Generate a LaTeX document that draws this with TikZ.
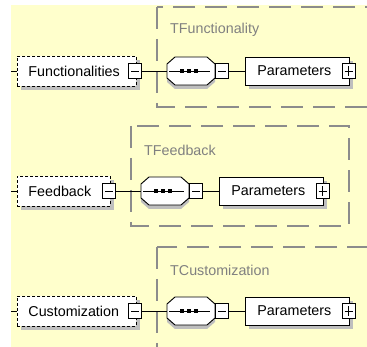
\documentclass[tikz,border=0pt]{standalone}
\usepackage{fontspec}
\setmainfont{Liberation Sans}
\usetikzlibrary{shadows}
\definecolor{bgyellow}{RGB}{255,255,204}
\definecolor{shadowgray}{RGB}{190,190,190}
\definecolor{groupgray}{RGB}{140,140,140}
\definecolor{labelgray}{RGB}{128,128,128}
\tikzset{
  x=1pt, y=-1pt,
  txt/.style={font=\fontsize{14.3}{16}\selectfont},
  elembox/.style={draw=black, line width=0.9pt, fill=white, rectangle,
    minimum height=#1, inner xsep=11pt, inner ysep=0pt, align=left, txt,
    drop shadow={shadow xshift=4pt, shadow yshift=-4pt, fill=shadowgray, opacity=1},
    anchor=west},
  optbox/.style={elembox=30pt, dash pattern=on 3pt off 2pt},
  parbox/.style={elembox=28pt, inner xsep=12pt, text width=80pt},
  sqbox/.style={draw=black, line width=0.9pt, fill=white, rectangle,
    minimum width=13pt, minimum height=14.5pt, inner sep=0pt},
  collapsebox/.style={sqbox, path picture={
    \draw[line width=0.9pt] ([xshift=2.5pt]path picture bounding box.west) -- ([xshift=-2.5pt]path picture bounding box.east);}},
  expandbox/.style={sqbox, path picture={
    \draw[line width=0.9pt] ([xshift=2.5pt]path picture bounding box.west) -- ([xshift=-2.5pt]path picture bounding box.east);
    \draw[line width=0.9pt] ([yshift=-2.5pt]path picture bounding box.north) -- ([yshift=2.5pt]path picture bounding box.south);}},
  seqfit/.style={rectangle, minimum width=48pt, minimum height=28pt, inner sep=0pt},
  conn/.style={draw=black, line width=0.9pt},
  groupbox/.style={draw=groupgray, line width=1.3pt, dash pattern=on 22pt off 10pt},
  grouplabel/.style={txt, text=labelgray, anchor=west, inner sep=0pt},
}
\begin{document}
\begin{tikzpicture}
\useasboundingbox (0,0) rectangle (367,347);
\clip (0,0) rectangle (367,347);
\fill[white] (0,0) rectangle (367,347);
\fill[bgyellow] (11,5) rectangle (367,347);
\foreach \i/\cy/\name/\tw/\dx/\gr/\gb/\lab in {
   1/71/Functionalities/97/0/380/107/TFunctionality,
   2/191/Feedback/71/-26/380/226/TFeedback,
   3/311/Customization/97/0/380/370/TCustomization}{
  % group box
  \ifnum\i=2
    \draw[groupbox] ({157+\dx},{\cy-65}) rectangle ({375+\dx},\gb);
  \else
    \draw[groupbox] ({157+\dx},{\cy-64}) rectangle (\gr,\gb);
  \fi
  \node[grouplabel] (l\i) at ({170+\dx},{\cy-41}) {\lab};
  % element
  \coordinate (stub\i) at (11,\cy);
  \node[optbox, text width=\tw pt] (e\i) at (17,\cy) {\name};
  \draw[conn] (stub\i) -- (e\i.west);
  \node[collapsebox] (m\i) at ({135+\dx},\cy) {};
  % sequence
  \node[seqfit] (s\i) at ({191+\dx},\cy) {};
  \fill[shadowgray] ({175+\dx},{\cy-10}) -- ++(32,0) -- ++(8,7) -- ++(0,14) -- ++(-8,7) -- ++(-32,0) -- ++(-8,-7) -- ++(0,-14) -- cycle;
  \draw[line width=0.9pt, fill=white] ({175+\dx},{\cy-14}) -- ++(32,0) -- ++(8,7) -- ++(0,14) -- ++(-8,7) -- ++(-32,0) -- ++(-8,-7) -- ++(0,-14) -- cycle;
  \draw[line width=0.9pt] ({169+\dx},\cy) -- ({210+\dx},\cy);
  \foreach \d in {-8,-1,6}{
    \fill ({189.5+\d+\dx-2},{\cy-2}) rectangle ++(4,4);
  }
  \node[collapsebox] (n\i) at ({222+\dx},\cy) {};
  \draw[conn] (m\i.east) -- (s\i.west);
  % parameters
  \node[parbox] (p\i) at ({245+\dx},\cy) {Parameters};
  \node[expandbox] (x\i) at ({348.5+\dx},\cy) {};
  \draw[conn] (n\i.east) -- (p\i.west);
}
\end{tikzpicture}
\end{document}
